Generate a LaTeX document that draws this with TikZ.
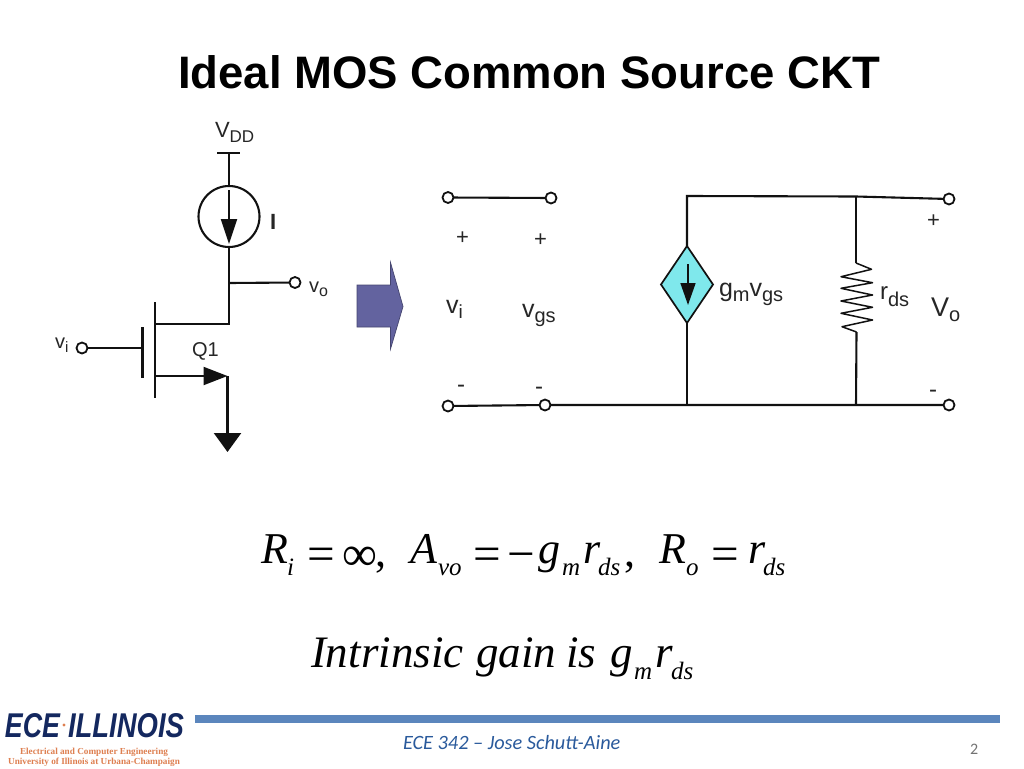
\documentclass[tikz,border=0pt]{standalone}
\usepackage{fontspec}
\usetikzlibrary{arrows.meta,shapes.geometric}
\setmainfont{Liberation Sans}
\newfontfamily\tms{Liberation Serif}
\newfontfamily\crl{Carlito}
\newcommand{\fz}[1]{\fontsize{#1}{#1}\selectfont}
\definecolor{wire}{HTML}{111111}
\definecolor{blockc}{HTML}{63639F}
\definecolor{diac}{HTML}{7FE8EC}
\definecolor{barc}{HTML}{5B86BD}
\definecolor{footc}{HTML}{2A5A9C}
\definecolor{logoc}{HTML}{14285F}
\definecolor{orgc}{HTML}{DE7F50}
\tikzset{
  w/.style={draw=wire,line width=2.1pt},
  term/.style={circle,draw=wire,line width=1.8pt,fill=white,minimum size=11pt,inner sep=0pt,outer sep=0pt},
  t/.style={anchor=base west,inner sep=0pt,outer sep=0pt,text=black!85},
  eq/.style={anchor=base west,inner sep=0pt,outer sep=0pt,text=black,font=\tms\itshape\fz{44}},
  eqb/.style={anchor=base west,inner sep=0pt,outer sep=0pt,text=black,font=\tms\itshape\fz{45}},
  eqr/.style={anchor=base west,inner sep=0pt,outer sep=0pt,text=black,font=\tms\fz{44}},
  eqm/.style={anchor=base west,inner sep=0pt,outer sep=0pt,text=black,font=\tms\fz{49}},
  eqs/.style={anchor=base west,inner sep=0pt,outer sep=0pt,text=black,font=\tms\itshape\fz{25}},
  head/.style 2 args={-{Triangle[length=#1,width=#2]}},
}
\begin{document}
\begin{tikzpicture}[x=1pt,y=-1pt]
\useasboundingbox (0,0) rectangle (1024,768);
\fill[white] (0,0) rectangle (1024,768);

% title
\node[t,text=black,font=\bfseries\fz{45.5}] (title) at (178,88) {Ideal MOS Common Source CKT};

% MOS circuit
\coordinate (vddL) at (217,153);
\coordinate (vddR) at (240,153);
\coordinate (vddM) at (229,153);
\node[circle,draw=wire,line width=2.1pt,fill=white,minimum size=61pt,inner sep=0pt,outer sep=0pt] (isrc) at (229,216.5) {};
\coordinate (aTop) at (229,190);
\coordinate (aTip) at (229,244);
\coordinate (outJ) at (229,283);
\coordinate (drainJ) at (229,324);
\node[term] (vo) at (295,282.5) {};
\coordinate (chT) at (155,302);
\coordinate (chB) at (155,398);
\coordinate (drainC) at (155,324);
\coordinate (srcC) at (155,376);
\coordinate (gT) at (142.5,327);
\coordinate (gB) at (142.5,378);
\coordinate (gM) at (142.5,348);
\node[term] (vi) at (82,348) {};
\coordinate (srcJ) at (227.5,376);
\coordinate (gndTip) at (227.5,452);
\draw[w] (vddL) -- (vddR);
\draw[w] (vddM) -- (isrc.north);
\draw[w,head={25pt}{16pt}] (aTop) -- (aTip);
\draw[w] (isrc.south) -- (drainJ) -- (drainC);
\draw[w] (outJ) -- (vo);
\draw[w,line width=2.4pt] (chT) -- (chB);
\draw[w,line width=2.4pt] (gT) -- (gB);
\draw[w] (vi) -- (gM);
\draw[w,head={24pt}{18pt}] (srcC) -- (srcJ);
\draw[w,line width=2.4pt,head={19pt}{27pt}] (srcJ) -- (gndTip);

\node[t,font=\fz{22}] (lvdd) at (215,137) {V\raisebox{-5pt}{\fz{17}DD}};
\node[t,font=\bfseries\fz{22}] (lI) at (270,229) {I};
\node[t,font=\fz{20}] (lvo) at (309,292) {v\raisebox{-4pt}{\fz{16}o}};
\node[t,font=\fz{20}] (lvi) at (55,348) {v\raisebox{-4pt}{\fz{15}i}};
\node[t,font=\fz{20}] (lq) at (192,356) {Q1};

% block arrow
\fill[blockc] (357,285) -- (390.5,285) -- (390.5,262.5) -- (403,306.5) -- (390.5,349) -- (390.5,327) -- (357,327) -- cycle;
\draw[blockc!70!black,line width=0.7pt] (357,285) -- (390.5,285) -- (390.5,262.5) -- (403,306.5) -- (390.5,349) -- (390.5,327) -- (357,327) -- cycle;

% small signal model
\node[term] (a1) at (448,197.5) {};
\node[term] (a2) at (551,198) {};
\node[term] (b1) at (448,406) {};
\node[term] (b2) at (545,405) {};
\node[term] (a3) at (949,199) {};
\node[term] (b3) at (949,405) {};
\coordinate (topC) at (687,196);
\coordinate (topR) at (856,196.5);
\coordinate (botC) at (687,405);
\coordinate (botR) at (856,405);
\node[diamond,draw=wire,line width=1.7pt,fill=diac,minimum width=52pt,minimum height=77pt,inner sep=0pt,outer sep=0pt] (dep) at (687,284.5) {};
\coordinate (dT) at (688,264);
\coordinate (dB) at (688,305);
\coordinate (r1) at (856,263);
\coordinate (r2) at (856.5,332);
\draw[w] (a1) -- (a2);
\draw[w] (dep.north) -- (topC) -- (topR) -- (a3);
\draw[w] (b1) -- (b2) -- (botC) -- (botR) -- (b3);
\draw[w] (dep.south) -- (botC);
\draw[w,line width=1.6pt,head={22pt}{15pt}] (dT) -- (dB);
\draw[w] (topR) -- (r1);
\draw[w] (r2) -- (botR);
\draw[w,line width=1.5pt,line join=round] (r1) -- (871.5,269.3) -- (841,276.7) -- (872.5,282.7) -- (841,288.3) -- (872.5,295) -- (841,301) -- (872.5,307.3) -- (841,313.3) -- (872.5,320) -- (842,326.7) -- (r2);

\node[t,font=\fz{22}] (p1) at (456,244) {+};
\node[t,font=\fz{22}] (p2) at (534,246) {+};
\node[t,font=\fz{22}] (p3) at (927,227) {+};
\node[t,font=\fz{24}] (m1) at (457,392) {-};
\node[t,font=\fz{24}] (m2) at (535,394) {-};
\node[t,font=\fz{24}] (m3) at (929,397) {-};
\node[t,font=\fz{25}] (lvi2) at (446,313) {v\raisebox{-5pt}{\fz{19}i}};
\node[t,font=\fz{25}] (lvgs) at (522,317) {v\raisebox{-5pt}{\fz{20}gs}};
\node[t,font=\fz{25}] (lgm) at (719,296) {g\raisebox{-5pt}{\fz{20}m}v\raisebox{-5pt}{\fz{20}gs}};
\node[t,font=\fz{24}] (lrds) at (880,299) {r\raisebox{-7pt}{\fz{20}ds}};
\node[t,font=\fz{27}] (lVo) at (931,316) {V\raisebox{-5pt}{\fz{20}o}};

% equation line 1
\node[eq] (e1) at (261,563) {R};
\node[eqs] (e2) at (287,575) {i};
\node[eqm] (e3) at (307,570.5) {=};
\node[eqm] (e4) at (342,570.5) {∞};
\node[eqr] (e4b) at (375,566) {,};
\node[eq] (e5) at (410,563) {A};
\node[eqs] (e6) at (438,575) {vo};
\node[eqm] (e7) at (473,570.5) {=};
\node[eqm] (e8) at (507,570.5) {−};
\node[eq] (e9) at (538,563) {g};
\node[eqs] (e10) at (562,575) {m};
\node[eq] (e11) at (583,563) {r};
\node[eqs] (e12) at (598,575) {ds};
\node[eqr] (e13) at (624,566) {,};
\node[eq] (e14) at (659,563) {R};
\node[eqs] (e15) at (686,575) {o};
\node[eqm] (e16) at (711,570.5) {=};
\node[eq] (e17) at (748,563) {r};
\node[eqs] (e18) at (763,575) {ds};

% equation line 2
\node[eqb] (f1) at (311,667) {Intrinsic};
\node[eqb] (f2) at (476,667) {gain};
\node[eqb] (f3) at (566,667) {is};
\node[eqb] (f4) at (610,667) {g};
\node[eqs] (f5) at (634,679) {m};
\node[eqb] (f6) at (655,667) {r};
\node[eqs] (f7) at (671,679) {ds};

% footer
\fill[barc] (195,715) rectangle (1000,723);
\node[t,text=footc,font=\crl\itshape\fz{20.3}] (foot) at (403,749) {ECE 342 – Jose Schutt-Aine};
\node[t,text=black!55,font=\crl\fz{16}] (num) at (970,754) {2};
\node[t,text=logoc,font=\bfseries\itshape] (logoA) at (5,737) {\resizebox{55pt}{24pt}{ECE}};
\node[t,text=logoc,font=\bfseries\itshape] (logoB) at (68,737) {\resizebox{116pt}{24pt}{ILLINOIS}};
\fill[orgc] (64,725) circle (1.7);
\node[anchor=base,inner sep=0pt,text=orgc,font=\tms\bfseries\fz{9.2}] (logoC) at (94,754) {Electrical and Computer Engineering};
\node[anchor=base,inner sep=0pt,text=orgc,font=\tms\bfseries\fz{9.2}] (logoD) at (94,764) {University of Illinois at Urbana-Champaign};
\end{tikzpicture}
\end{document}
